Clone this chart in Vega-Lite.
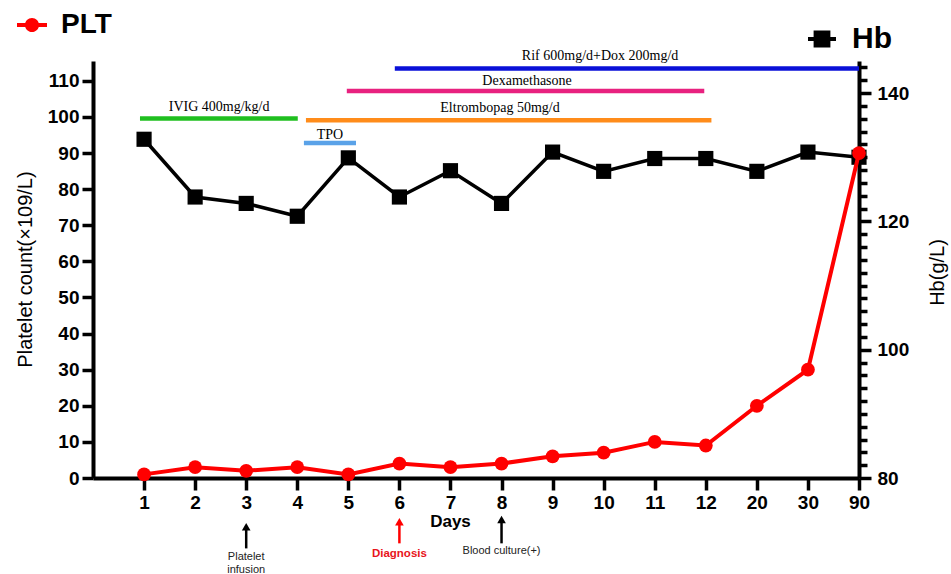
{
  "$schema": "https://vega.github.io/schema/vega-lite/v6.json",
  "width": 766,
  "height": 417,
  "autosize": {"type": "none"},
  "padding": {"left": 93, "top": 61, "right": 92, "bottom": 96},
  "background": "white",
  "config": {"view": {"stroke": null}, "font": "Liberation Sans", "axis": {"grid": false}},
  "datasets": {
    "plt": [
      {"i": 1, "day": "1", "plt": 1}, {"i": 2, "day": "2", "plt": 3}, {"i": 3, "day": "3", "plt": 2},
      {"i": 4, "day": "4", "plt": 3}, {"i": 5, "day": "5", "plt": 1}, {"i": 6, "day": "6", "plt": 4},
      {"i": 7, "day": "7", "plt": 3}, {"i": 8, "day": "8", "plt": 4}, {"i": 9, "day": "9", "plt": 6},
      {"i": 10, "day": "10", "plt": 7}, {"i": 11, "day": "11", "plt": 10}, {"i": 12, "day": "12", "plt": 9},
      {"i": 13, "day": "20", "plt": 20}, {"i": 14, "day": "30", "plt": 30}, {"i": 15, "day": "90", "plt": 90}
    ],
    "hb": [
      {"i": 1, "day": "1", "hb": 132.8}, {"i": 2, "day": "2", "hb": 123.8}, {"i": 3, "day": "3", "hb": 122.8},
      {"i": 4, "day": "4", "hb": 120.8}, {"i": 5, "day": "5", "hb": 129.9}, {"i": 6, "day": "6", "hb": 123.8},
      {"i": 7, "day": "7", "hb": 127.9}, {"i": 8, "day": "8", "hb": 122.8}, {"i": 9, "day": "9", "hb": 130.8},
      {"i": 10, "day": "10", "hb": 127.8}, {"i": 11, "day": "11", "hb": 129.8}, {"i": 12, "day": "12", "hb": 129.8},
      {"i": 13, "day": "20", "hb": 127.8}, {"i": 14, "day": "30", "hb": 130.8}, {"i": 15, "day": "90", "hb": 130}
    ],
    "treat": [
      {"name": "IVIG 400mg/kg/d", "start": 0.92, "end": 4.01, "level": 99.6, "mid": 2.47, "ly": 102.7},
      {"name": "TPO", "start": 4.13, "end": 5.15, "level": 92.8, "mid": 4.64, "ly": 94.9},
      {"name": "Eltrombopag 50mg/d", "start": 4.17, "end": 12.11, "level": 99.1, "mid": 7.97, "ly": 102.5},
      {"name": "Dexamethasone", "start": 4.97, "end": 11.97, "level": 107.2, "mid": 8.5, "ly": 110.0},
      {"name": "Rif 600mg/d+Dox 200mg/d", "start": 5.91, "end": 15.0, "level": 113.4, "mid": 9.93, "ly": 116.8}
    ],
    "ann": [
      {"i": 3, "label": "Platelet\ninfusion", "top": -12.3, "head": -13.5, "bottom": -19.5, "ty": -20.3},
      {"i": 6, "label": "Diagnosis", "top": -10.9, "head": -12.1, "bottom": -18.1, "ty": -19.3},
      {"i": 8, "label": "Blood culture(+)", "top": -10.3, "head": -11.5, "bottom": -18.1, "ty": -18.6}
    ]
  },
  "layer": [
    {
      "data": {"name": "hb"},
      "layer": [
        {
          "mark": {"type": "line", "color": "black", "strokeWidth": 3.5},
          "encoding": {
            "x": {"field": "i", "type": "quantitative", "scale": {"domain": [0, 15], "nice": false, "zero": false}},
            "y": {
              "field": "hb", "type": "quantitative",
              "scale": {"domain": [80, 145], "nice": false, "zero": false},
              "axis": {
                "orient": "right", "title": "Hb(g/L)",
                "tickCount": 33,
                "labelExpr": "datum.value % 20 == 0 ? datum.label : ''",
                "ticks": true,
                "tickSize": {"condition": {"test": "datum.value % 20 == 0", "value": 12}, "value": 8},
                "tickWidth": 3.5, "tickColor": "black", "tickOpacity": 1, "domainColor": "black", "domainWidth": 4,
                "labelFont": "Liberation Sans", "labelFontSize": 19, "labelFontWeight": "bold", "labelColor": "black",
                "labelPadding": 6, "labelOverlap": false, "labelFlush": false,
                "titleFont": "Liberation Sans", "titleFontSize": 20, "titleFontWeight": "normal", "titleColor": "black",
                "titleAngle": -90, "titleX": 78, "titleY": 211, "titleAlign": "center", "titleBaseline": "middle"
              }
            }
          }
        },
        {
          "mark": {"type": "point", "shape": "square", "filled": true, "size": 230, "opacity": 1},
          "encoding": {
            "x": {"field": "i", "type": "quantitative", "scale": {"domain": [0, 15], "nice": false, "zero": false}},
            "y": {
              "field": "hb", "type": "quantitative",
              "scale": {"domain": [80, 145], "nice": false, "zero": false},
              "axis": {
                "orient": "right", "title": "Hb(g/L)",
                "tickCount": 33,
                "labelExpr": "datum.value % 20 == 0 ? datum.label : ''",
                "ticks": true,
                "tickSize": {"condition": {"test": "datum.value % 20 == 0", "value": 12}, "value": 8},
                "tickWidth": 3.5, "tickColor": "black", "tickOpacity": 1, "domainColor": "black", "domainWidth": 4,
                "labelFont": "Liberation Sans", "labelFontSize": 19, "labelFontWeight": "bold", "labelColor": "black",
                "labelPadding": 6, "labelOverlap": false, "labelFlush": false,
                "titleFont": "Liberation Sans", "titleFontSize": 20, "titleFontWeight": "normal", "titleColor": "black",
                "titleAngle": -90, "titleX": 78, "titleY": 211, "titleAlign": "center", "titleBaseline": "middle"
              }
            },
            "color": {
              "datum": "Hb",
              "scale": {"domain": ["Hb"], "range": ["#000000"]},
              "legend": {
                "orient": "none", "legendX": 714, "legendY": -37, "title": null, "padding": 0,
                "symbolType": "M-1,-0.14H1V0.14H-1Z M-0.6,-0.6H0.6V0.6H-0.6Z",
                "symbolSize": 784, "symbolStrokeWidth": 0, "symbolFillColor": "#000000", "symbolOpacity": 1,
                "labelFont": "Liberation Sans", "labelFontSize": 30, "labelFontWeight": "bold", "labelColor": "black",
                "labelOffset": 15
              }
            }
          }
        }
      ]
    },
    {
      "layer": [
        {
          "data": {"name": "plt"},
          "mark": {"type": "line", "color": "#FF0000", "strokeWidth": 4},
          "encoding": {
            "x": {
              "field": "i", "type": "quantitative", "scale": {"domain": [0, 15], "nice": false, "zero": false},
              "axis": {
                "title": "Days",
                "values": [1, 2, 3, 4, 5, 6, 7, 8, 9, 10, 11, 12, 13, 14, 15],
                "labelExpr": "['1','2','3','4','5','6','7','8','9','10','11','12','20','30','90'][datum.value - 1]",
                "labelFont": "Liberation Sans", "labelFontSize": 19, "labelFontWeight": "bold", "labelColor": "black",
                "labelPadding": 3, "labelOverlap": false, "labelFlush": false,
                "tickSize": 12, "tickWidth": 3.5, "tickColor": "black", "domainColor": "black", "domainWidth": 4,
                "titleFont": "Liberation Sans", "titleFontSize": 17, "titleFontWeight": "bold", "titleColor": "black",
                "titleX": 357, "titleY": 48, "titleAlign": "center", "titleBaseline": "alphabetic"
              }
            },
            "y": {
              "field": "plt", "type": "quantitative",
              "scale": {"domain": [0, 115.5], "nice": false, "zero": false},
              "axis": {
                "orient": "left", "title": "Platelet count(×109/L)",
                "values": [0, 10, 20, 30, 40, 50, 60, 70, 80, 90, 100, 110],
                "tickSize": 11, "tickWidth": 3.5, "tickColor": "black", "domainColor": "black", "domainWidth": 4,
                "labelFont": "Liberation Sans", "labelFontSize": 19, "labelFontWeight": "bold", "labelColor": "black",
                "labelPadding": 3, "labelOverlap": false, "labelFlush": false,
                "titleFont": "Liberation Sans", "titleFontSize": 20, "titleFontWeight": "normal", "titleColor": "black",
                "titleAngle": -90, "titleX": -68, "titleY": 208, "titleAlign": "center", "titleBaseline": "middle"
              }
            }
          }
        },
        {
          "data": {"name": "treat"},
          "mark": {"type": "rule", "strokeWidth": 4.5},
          "encoding": {
            "x": {"field": "start", "type": "quantitative", "scale": {"domain": [0, 15], "nice": false, "zero": false}},
            "x2": {"field": "end"},
            "y": {
              "field": "level", "type": "quantitative", "scale": {"domain": [0, 115.5], "nice": false, "zero": false},
              "axis": {
                "orient": "left", "title": "Platelet count(×109/L)",
                "values": [0, 10, 20, 30, 40, 50, 60, 70, 80, 90, 100, 110],
                "tickSize": 11, "tickWidth": 3.5, "tickColor": "black", "domainColor": "black", "domainWidth": 4,
                "labelFont": "Liberation Sans", "labelFontSize": 19, "labelFontWeight": "bold", "labelColor": "black",
                "labelPadding": 3, "labelOverlap": false, "labelFlush": false,
                "titleFont": "Liberation Sans", "titleFontSize": 20, "titleFontWeight": "normal", "titleColor": "black",
                "titleAngle": -90, "titleX": -68, "titleY": 208, "titleAlign": "center", "titleBaseline": "middle"
              }
            },
            "color": {
              "field": "name", "type": "nominal", "legend": null,
              "scale": {
                "domain": ["IVIG 400mg/kg/d", "TPO", "Eltrombopag 50mg/d", "Dexamethasone", "Rif 600mg/d+Dox 200mg/d"],
                "range": ["#1FBF1F", "#5AA2E8", "#FF8C1A", "#E8217F", "#0A10D8"]
              }
            }
          }
        },
        {
          "data": {"name": "treat"},
          "mark": {"type": "text", "font": "Liberation Serif", "fontSize": 14, "color": "black", "baseline": "middle", "align": "center"},
          "encoding": {
            "x": {"field": "mid", "type": "quantitative", "scale": {"domain": [0, 15], "nice": false, "zero": false}},
            "y": {
              "field": "ly", "type": "quantitative", "scale": {"domain": [0, 115.5], "nice": false, "zero": false},
              "axis": {
                "orient": "left", "title": "Platelet count(×109/L)",
                "values": [0, 10, 20, 30, 40, 50, 60, 70, 80, 90, 100, 110],
                "tickSize": 11, "tickWidth": 3.5, "tickColor": "black", "domainColor": "black", "domainWidth": 4,
                "labelFont": "Liberation Sans", "labelFontSize": 19, "labelFontWeight": "bold", "labelColor": "black",
                "labelPadding": 3, "labelOverlap": false, "labelFlush": false,
                "titleFont": "Liberation Sans", "titleFontSize": 20, "titleFontWeight": "normal", "titleColor": "black",
                "titleAngle": -90, "titleX": -68, "titleY": 208, "titleAlign": "center", "titleBaseline": "middle"
              }
            },
            "text": {"field": "name", "type": "nominal"}
          }
        },
        {
          "data": {"name": "plt"},
          "mark": {"type": "point", "shape": "circle", "filled": true, "size": 190, "opacity": 1},
          "encoding": {
            "x": {"field": "i", "type": "quantitative", "scale": {"domain": [0, 15], "nice": false, "zero": false}},
            "y": {
              "field": "plt", "type": "quantitative", "scale": {"domain": [0, 115.5], "nice": false, "zero": false},
              "axis": {
                "orient": "left", "title": "Platelet count(×109/L)",
                "values": [0, 10, 20, 30, 40, 50, 60, 70, 80, 90, 100, 110],
                "tickSize": 11, "tickWidth": 3.5, "tickColor": "black", "domainColor": "black", "domainWidth": 4,
                "labelFont": "Liberation Sans", "labelFontSize": 19, "labelFontWeight": "bold", "labelColor": "black",
                "labelPadding": 3, "labelOverlap": false, "labelFlush": false,
                "titleFont": "Liberation Sans", "titleFontSize": 20, "titleFontWeight": "normal", "titleColor": "black",
                "titleAngle": -90, "titleX": -68, "titleY": 208, "titleAlign": "center", "titleBaseline": "middle"
              }
            },
            "color": {
              "datum": "PLT",
              "scale": {"domain": ["PLT"], "range": ["#FF0000"]},
              "legend": {
                "orient": "none", "legendX": -76, "legendY": -51, "title": null, "padding": 0,
                "symbolType": "M-1,-0.13H1V0.13H-1Z M0.47,0A0.47,0.47 0 1,1 -0.47,0A0.47,0.47 0 1,1 0.47,0Z",
                "symbolSize": 900, "symbolStrokeWidth": 0, "symbolFillColor": "#FF0000", "symbolOpacity": 1,
                "labelFont": "Liberation Sans", "labelFontSize": 28, "labelFontWeight": "bold", "labelColor": "black",
                "labelOffset": 14
              }
            }
          }
        },
        {
          "data": {"name": "ann"},
          "mark": {"type": "rule", "strokeWidth": 2.5},
          "encoding": {
            "x": {"field": "i", "type": "quantitative", "scale": {"domain": [0, 15], "nice": false, "zero": false}},
            "y": {
              "field": "head", "type": "quantitative", "scale": {"domain": [0, 115.5], "nice": false, "zero": false},
              "axis": {
                "orient": "left", "title": "Platelet count(×109/L)",
                "values": [0, 10, 20, 30, 40, 50, 60, 70, 80, 90, 100, 110],
                "tickSize": 11, "tickWidth": 3.5, "tickColor": "black", "domainColor": "black", "domainWidth": 4,
                "labelFont": "Liberation Sans", "labelFontSize": 19, "labelFontWeight": "bold", "labelColor": "black",
                "labelPadding": 3, "labelOverlap": false, "labelFlush": false,
                "titleFont": "Liberation Sans", "titleFontSize": 20, "titleFontWeight": "normal", "titleColor": "black",
                "titleAngle": -90, "titleX": -68, "titleY": 208, "titleAlign": "center", "titleBaseline": "middle"
              }
            },
            "y2": {"field": "bottom"},
            "color": {"condition": {"test": "datum.label == 'Diagnosis'", "value": "#FF0000"}, "value": "black"}
          }
        },
        {
          "data": {"name": "ann"},
          "mark": {"type": "point", "shape": "triangle-up", "filled": true, "size": 75, "opacity": 1},
          "encoding": {
            "x": {"field": "i", "type": "quantitative", "scale": {"domain": [0, 15], "nice": false, "zero": false}},
            "y": {
              "field": "head", "type": "quantitative", "scale": {"domain": [0, 115.5], "nice": false, "zero": false},
              "axis": {
                "orient": "left", "title": "Platelet count(×109/L)",
                "values": [0, 10, 20, 30, 40, 50, 60, 70, 80, 90, 100, 110],
                "tickSize": 11, "tickWidth": 3.5, "tickColor": "black", "domainColor": "black", "domainWidth": 4,
                "labelFont": "Liberation Sans", "labelFontSize": 19, "labelFontWeight": "bold", "labelColor": "black",
                "labelPadding": 3, "labelOverlap": false, "labelFlush": false,
                "titleFont": "Liberation Sans", "titleFontSize": 20, "titleFontWeight": "normal", "titleColor": "black",
                "titleAngle": -90, "titleX": -68, "titleY": 208, "titleAlign": "center", "titleBaseline": "middle"
              }
            },
            "color": {"condition": {"test": "datum.label == 'Diagnosis'", "value": "#FF0000"}, "value": "black"}
          }
        },
        {
          "data": {"name": "ann"},
          "transform": [{"filter": "datum.label != 'Diagnosis'"}],
          "mark": {"type": "text", "font": "Liberation Sans", "fontSize": 11, "color": "#222222", "baseline": "top", "align": "center", "lineBreak": "\n", "lineHeight": 13},
          "encoding": {
            "x": {"field": "i", "type": "quantitative", "scale": {"domain": [0, 15], "nice": false, "zero": false}},
            "y": {
              "field": "ty", "type": "quantitative", "scale": {"domain": [0, 115.5], "nice": false, "zero": false},
              "axis": {
                "orient": "left", "title": "Platelet count(×109/L)",
                "values": [0, 10, 20, 30, 40, 50, 60, 70, 80, 90, 100, 110],
                "tickSize": 11, "tickWidth": 3.5, "tickColor": "black", "domainColor": "black", "domainWidth": 4,
                "labelFont": "Liberation Sans", "labelFontSize": 19, "labelFontWeight": "bold", "labelColor": "black",
                "labelPadding": 3, "labelOverlap": false, "labelFlush": false,
                "titleFont": "Liberation Sans", "titleFontSize": 20, "titleFontWeight": "normal", "titleColor": "black",
                "titleAngle": -90, "titleX": -68, "titleY": 208, "titleAlign": "center", "titleBaseline": "middle"
              }
            },
            "text": {"field": "label", "type": "nominal"}
          }
        },
        {
          "data": {"name": "ann"},
          "transform": [{"filter": "datum.label == 'Diagnosis'"}],
          "mark": {"type": "text", "font": "Liberation Sans", "fontSize": 11.5, "fontWeight": "bold", "color": "#E8141B", "baseline": "top", "align": "center"},
          "encoding": {
            "x": {"field": "i", "type": "quantitative", "scale": {"domain": [0, 15], "nice": false, "zero": false}},
            "y": {
              "field": "ty", "type": "quantitative", "scale": {"domain": [0, 115.5], "nice": false, "zero": false},
              "axis": {
                "orient": "left", "title": "Platelet count(×109/L)",
                "values": [0, 10, 20, 30, 40, 50, 60, 70, 80, 90, 100, 110],
                "tickSize": 11, "tickWidth": 3.5, "tickColor": "black", "domainColor": "black", "domainWidth": 4,
                "labelFont": "Liberation Sans", "labelFontSize": 19, "labelFontWeight": "bold", "labelColor": "black",
                "labelPadding": 3, "labelOverlap": false, "labelFlush": false,
                "titleFont": "Liberation Sans", "titleFontSize": 20, "titleFontWeight": "normal", "titleColor": "black",
                "titleAngle": -90, "titleX": -68, "titleY": 208, "titleAlign": "center", "titleBaseline": "middle"
              }
            },
            "text": {"field": "label", "type": "nominal"}
          }
        }
      ],
      "resolve": {"scale": {"color": "independent"}}
    }
  ],
  "resolve": {"scale": {"y": "independent", "color": "independent"}}
}
